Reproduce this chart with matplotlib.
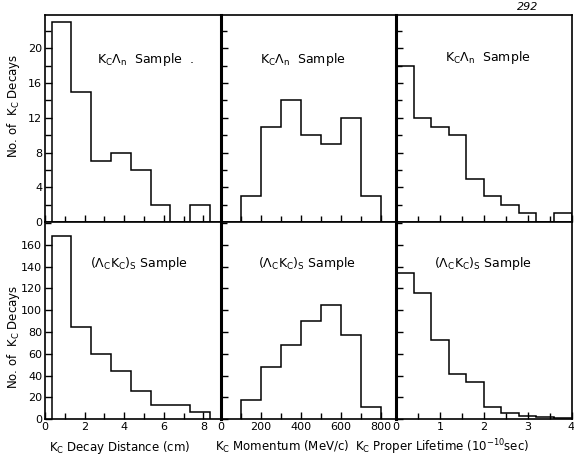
import matplotlib
matplotlib.use("Agg")
import matplotlib.pyplot as plt
import numpy as np
from matplotlib.ticker import MultipleLocator, FixedLocator

# ---- data ----
dist_edges = [0.33, 1.33, 2.33, 3.33, 4.33, 5.33, 6.33, 7.33, 8.33]
dist_kl = [23, 15, 7, 8, 6, 2, 0, 2]
dist_lk = [168, 85, 60, 44, 26, 13, 13, 7]

mom_edges = [100, 200, 300, 400, 500, 600, 700, 800]
mom_kl = [3, 11, 14, 10, 9, 12, 3]
mom_lk = [18, 48, 68, 90, 105, 77, 11]

life_edges = [0.0, 0.4, 0.8, 1.2, 1.6, 2.0, 2.4, 2.8, 3.2, 3.6, 4.0]
life_kl = [18, 12, 11, 10, 5, 3, 2, 1, 0, 1]
life_lk = [134, 116, 73, 42, 34, 11, 6, 3, 2, 1]

yticks_top = [0, 4, 8, 12, 16, 20]
yticks_bot = [0, 20, 40, 60, 80, 100, 120, 140, 160]

sample_top = r"K$_{\rm C}\Lambda_{\rm n}$  Sample"
sample_bot = r"($\Lambda_{\rm C}$K$_{\rm C}$)$_{\rm S}$ Sample"
ylabel = r"No. of  K$_{\rm C}$ Decays"
xlabels = [r"K$_{\rm C}$ Decay Distance (cm)",
           r"K$_{\rm C}$ Momentum (MeV/c)",
           r"K$_{\rm C}$ Proper Lifetime (10$^{-10}$sec)"]

xlims = [(0, 8.86), (0, 875), (0, 4)]
xmaj = [2, 200, 1]
xmin = [1, 100, 0.5]

W, H = 574, 458
fig = plt.figure(figsize=(W / 100, H / 100), dpi=100)
plt.rcParams['mathtext.fontset'] = 'dejavusans'

colx = [45, 220.5, 396]
colw = [175.5, 175.5, 175.5]
rows = [(15, 222), (222, 419.3)]

data = [[(dist_edges, dist_kl), (mom_edges, mom_kl), (life_edges, life_kl)],
        [(dist_edges, dist_lk), (mom_edges, mom_lk), (life_edges, life_lk)]]
ylims = [(0, 23.85), (0, 181)]
ymajor = [yticks_top, yticks_bot]
ymin_ = [2, 20]

label_pos = [[(145, 60, sample_top + "  ."), (303, 60, sample_top), (488, 58, sample_top)],
             [(139, 263, sample_bot), (307, 263, sample_bot), (483, 263, sample_bot)]]

for r in range(2):
    top, bot = rows[r]
    for c in range(3):
        ax = fig.add_axes([colx[c] / W, 1 - bot / H, colw[c] / W, (bot - top) / H])
        edges, vals = data[r][c]
        ax.stairs(vals, edges, baseline=0, color='black', linewidth=1.1)
        ax.set_xlim(*xlims[c])
        ax.set_ylim(*ylims[r])
        ax.xaxis.set_major_locator(MultipleLocator(xmaj[c]))
        ax.xaxis.set_minor_locator(MultipleLocator(xmin[c]))
        ax.yaxis.set_major_locator(FixedLocator(ymajor[r]))
        ax.yaxis.set_minor_locator(MultipleLocator(ymin_[r]))
        ax.tick_params(which='both', direction='in', top=False, right=False,
                       labelsize=8, pad=2, width=1)
        ax.tick_params(which='major', length=5)
        ax.tick_params(which='minor', length=4)
        if c != 0:
            ax.tick_params(labelleft=False)
        if r == 0:
            ax.tick_params(labelbottom=False)
        for s in ax.spines.values():
            s.set_linewidth(1.2)
        if c != 0:
            ax.spines['left'].set_linewidth(2.2)
        if r == 1 and c == 2:
            for lbl in ax.get_xticklabels():
                pass
        x, y, t = label_pos[r][c]
        fig.text(x / W, 1 - y / H, t, ha='center', va='center', fontsize=9)

fig.text(14 / W, 1 - 106 / H, ylabel, rotation=90, ha='center', va='center', fontsize=8.5)
fig.text(14 / W, 1 - 337 / H, ylabel, rotation=90, ha='center', va='center', fontsize=8.5)
for xc, t in zip([120, 282, 442], xlabels):
    fig.text(xc / W, 1 - 447 / H, t, ha='center', va='center', fontsize=8.5)

fig.text(528 / W, 1 - 7 / H, "292", ha='center', va='center', fontsize=8, style='italic')

fig.savefig("out.png", dpi=100)
